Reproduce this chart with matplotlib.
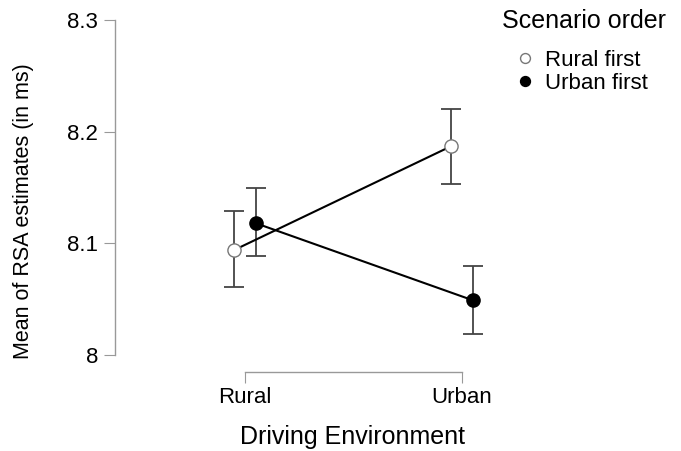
import matplotlib.pyplot as plt
import numpy as np

plt.rcParams['font.family'] = ['Liberation Sans', 'DejaVu Sans']

environments = ["Rural", "Urban"]
groups = ["Rural first", "Urban first"]
means = {
    "Rural first": [8.094, 8.187],
    "Urban first": [8.118, 8.049],
}
ci_low = {
    "Rural first": [8.061, 8.153],
    "Urban first": [8.089, 8.019],
}
ci_high = {
    "Rural first": [8.129, 8.220],
    "Urban first": [8.150, 8.080],
}
y_ticks = [8.0, 8.1, 8.2, 8.3]
y_tick_labels = ["8", "8.1", "8.2", "8.3"]

W, H = 681, 451
fig = plt.figure(figsize=(W / 100, H / 100), dpi=100)
ax = fig.add_axes([115 / W, 1 - 372 / H, (500 - 115) / W, (372 - 15) / H])

x = np.arange(len(environments))
dodge = {"Rural first": -0.05, "Urban first": 0.05}
style = {
    "Rural first": dict(mfc="white", mec="#777777"),
    "Urban first": dict(mfc="black", mec="black"),
}

for g in groups:
    xs = x + dodge[g]
    m = np.array(means[g])
    lo = m - np.array(ci_low[g])
    hi = np.array(ci_high[g]) - m
    ax.errorbar(xs, m, yerr=[lo, hi], fmt="none", ecolor="#444444",
                elinewidth=1.3, capsize=7.5, capthick=1.3, zorder=1)
    ax.plot(xs, m, color="black", lw=1.5, zorder=2)
    ax.plot(xs, m, ls="none", marker="o", ms=9.5, mew=1.0, label=g,
            zorder=3, **style[g])

ax.set_xlim(-(245 - 115) / 217, (500 - 245) / 217)
ax.set_ylim(8 - (372 - 355) / 1117, 8.3 + (20 - 15) / 1117)

ax.set_xticks(x)
ax.set_xticklabels(environments, fontsize=16)
ax.set_yticks(y_ticks)
ax.set_yticklabels(y_tick_labels, fontsize=16)

for s in ["top", "right"]:
    ax.spines[s].set_visible(False)
ax.spines["left"].set_bounds(8.0, 8.3)
ax.spines["bottom"].set_bounds(0, 1)
for s in ["left", "bottom"]:
    ax.spines[s].set_color("#999999")
    ax.spines[s].set_linewidth(1.0)
ax.tick_params(axis="x", length=8, color="#999999", pad=3)
ax.tick_params(axis="y", length=8, color="#999999", pad=4)

fig.text(353 / W, 1 - 437 / H, "Driving Environment", fontsize=18,
         ha="center", va="center")
fig.text(24 / W, 1 - 211 / H, "Mean of RSA estimates (in ms)", fontsize=15.5,
         ha="center", va="center", rotation=90)

fig.text(502 / W, 1 - 21 / H, "Scenario order", fontsize=18,
         ha="left", va="center")
leg = fig.legend(loc="upper left", bbox_to_anchor=(514 / W, 1 - 50 / H),
                 frameon=False, fontsize=16, markerscale=0.75,
                 handlelength=1.0, handletextpad=0.4, labelspacing=0.1,
                 borderpad=0, borderaxespad=0)

fig.savefig("out.png", dpi=100)
